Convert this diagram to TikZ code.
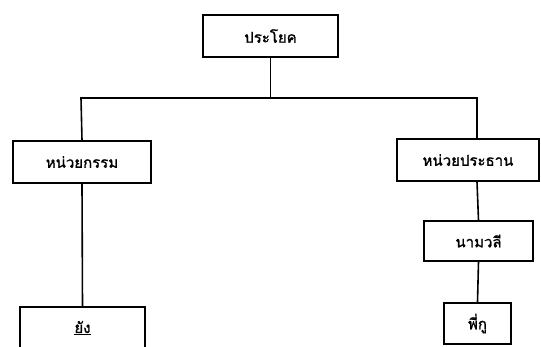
\documentclass[tikz,border=0pt]{standalone}
\usepackage{fontspec}
\newfontfamily\thaifont[Script=Thai,FakeBold=1.4]{Loma}
\usepackage{tikz}

\tikzset{
  box/.style={draw,line width=1.6pt,minimum height=42pt,inner sep=0pt,font=\thaifont\fontsize{15}{17}\selectfont},
}

\begin{document}
\begin{tikzpicture}[x=1pt,y=-1pt,line width=1.6pt]
            \useasboundingbox (0,0) rectangle (541,346);
            % boxes of the tree
            \node[box,minimum width=135pt] (sent) at (270.5,36) {ประโยค};
            \node[box,minimum width=138pt] (obj) at (82,162) {หน่วยกรรม};
            \node[box,minimum width=142pt] (subj) at (468,160) {หน่วยประธาน};
            \node[box,minimum width=109pt,minimum height=40pt] (np) at (478.5,241) {นามวลี};
            \node[box,minimum width=125pt] (yang) at (82.5,328) {\underline{ยัง}};
            \node[box,minimum width=67pt,minimum height=41pt] (phiku) at (477.5,323.5) {พี่กู};
            % branch bar
            \coordinate (jl) at (81,98);
            \coordinate (jr) at (477,98);
            \draw (sent.south) -- (sent.south |- jl);                 % stem from the top box
            \draw (obj.north) -- (jl) -- (jr) -- (jr |- subj.north);  % bar down to both units
            \draw (obj.south) -- (yang.north);
            \draw (jr |- subj.south) -- (np.north);
            \draw (np.south) -- (phiku.north);
        \end{tikzpicture}
\end{document}
